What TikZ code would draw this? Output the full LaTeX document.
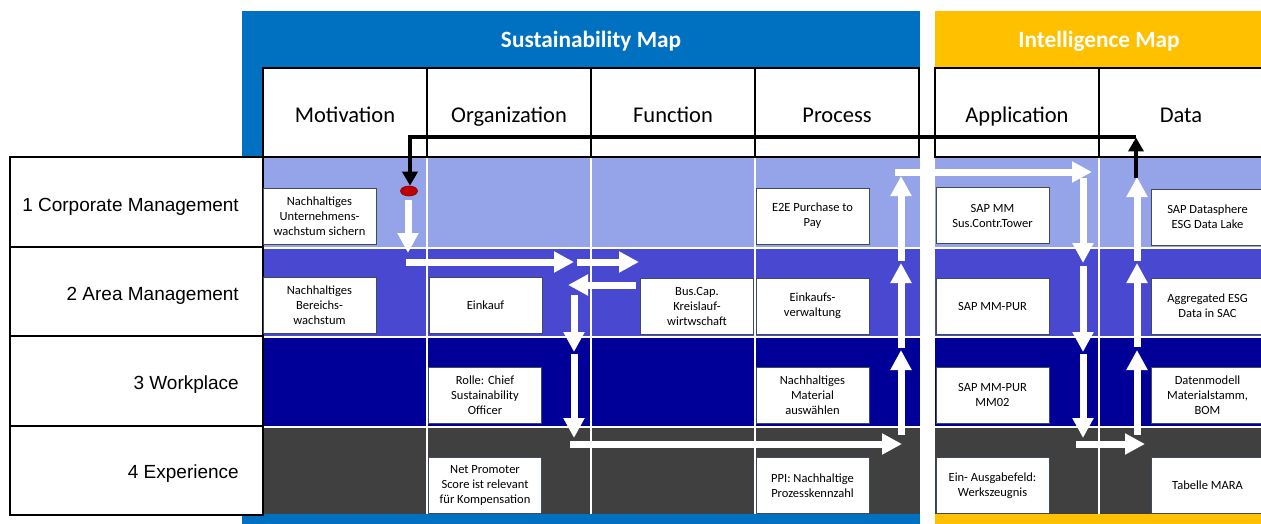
\documentclass[tikz,border=0pt]{standalone}
\usepackage{fontspec}
\setmainfont{Carlito}
\newfontfamily\arialf{Liberation Sans}
\usetikzlibrary{arrows.meta,shapes.geometric}
\definecolor{susblue}{HTML}{0070C0}
\definecolor{intyellow}{HTML}{FFC000}
\definecolor{rowA}{HTML}{95A3E8}
\definecolor{rowB}{HTML}{4848D0}
\definecolor{rowC}{HTML}{000099}
\definecolor{rowD}{HTML}{404040}
\definecolor{boxborder}{HTML}{3F4A5E}
\definecolor{dotred}{HTML}{C00000}
\definecolor{dotborder}{HTML}{7F0000}
\begin{document}
\begin{tikzpicture}[x=1pt,y=-1pt,
  headcell/.style={draw=black,line width=2pt,fill=white,minimum width=164pt,minimum height=89pt,inner sep=0pt,text height=21pt,text depth=0pt,font=\fontsize{22.5}{26}\selectfont},
  labelcell/.style={draw=black,line width=2pt,fill=white,minimum width=253pt,minimum height=89.5pt,inner sep=0pt},
  labeltext/.style={anchor=base east,inner sep=0pt,font=\arialf\fontsize{19}{22}\selectfont},
  maptitle/.style={anchor=base,text=white,inner sep=0pt,font=\bfseries\fontsize{23.3}{27}\selectfont},
  infobox/.style={draw=boxborder,line width=0.8pt,fill=white,minimum width=113pt,minimum height=56pt,inner sep=1pt,align=center,font=\fontsize{12.5}{15}\selectfont},
  whitearrow/.style={draw=white,line width=7pt,-{Triangle[width=20pt,length=20pt]}},
  blackarrow/.style={draw=black,line width=4pt,line join=miter,-{Triangle[width=15pt,length=14pt]}},
  gridline/.style={draw=white,line width=2pt},
  reddot/.style={ellipse,draw=dotborder,line width=0.6pt,fill=dotred,minimum width=17pt,minimum height=10pt,inner sep=0pt}
]
\useasboundingbox (0,0) rectangle (1261,524);
\fill[white] (0,0) rectangle (1261,524);
% panels
\fill[susblue] (242,11) rectangle (920,524);
\fill[intyellow] (935,11) rectangle (1263,524);
\node[maptitle] (tsus) at (591,48) {Sustainability Map};
\node[maptitle] (tint) at (1099,48) {Intelligence Map};
% row backgrounds
\foreach \xa/\xb in {263/920,935/1263}{
  \fill[rowA] (\xa,157) rectangle (\xb,247);
  \fill[rowB] (\xa,247) rectangle (\xb,336);
  \fill[rowC] (\xa,336) rectangle (\xb,426);
  \fill[rowD] (\xa,426) rectangle (\xb,514);
  \draw[gridline] (\xa,247.5) -- (\xb,247.5);
  \draw[gridline] (\xa,336.5) -- (\xb,336.5);
  \draw[gridline] (\xa,426.5) -- (\xb,426.5);
}
\foreach \xc in {427,591,755,1099}{
  \draw[gridline] (\xc,157) -- (\xc,514);
}
% header cells
\node[headcell] (hMot) at (345,112.5) {Motivation};
\node[headcell] (hOrg) at (509,112.5) {Organization};
\node[headcell] (hFun) at (673,112.5) {Function};
\node[headcell] (hPro) at (837,112.5) {Process};
\node[headcell] (hApp) at (1017,112.5) {Application};
\node[headcell] (hDat) at (1181,112.5) {Data};
% row label cells
\node[labelcell] (r1) at (136.5,201.75) {};
\node[labelcell] (r2) at (136.5,291.25) {};
\node[labelcell] (r3) at (136.5,380.75) {};
\node[labelcell] (r4) at (136.5,470.25) {};
\node[labeltext] (l1) at (239,211) {1 Corporate Management};
\node[labeltext] (l2) at (239,300) {2 Area Management};
\node[labeltext] (l3) at (239,389) {3 Workplace};
\node[labeltext] (l4) at (239,478) {4 Experience};
% boxes
\node[infobox] (m1) at (319.5,216.5) {Nachhaltiges\\Unternehmens-\\wachstum sichern};
\node[infobox] (m2) at (319.5,305.5) {Nachhaltiges\\Bereichs-\\wachstum};
\node[infobox] (o2) at (485.5,305.5) {Einkauf};
\node[infobox] (o3) at (485,395) {Rolle: Chief\\Sustainability\\Officer};
\node[infobox] (o4) at (485,485) {Net Promoter\\Score ist relevant\\für Kompensation};
\node[infobox] (f2) at (697,306) {Bus.Cap.\\Kreislauf-\\wirtwschaft};
\node[infobox] (p1) at (812.5,216) {E2E Purchase to\\Pay};
\node[infobox] (p2) at (812.5,306) {Einkaufs-\\verwaltung};
\node[infobox] (p3) at (812.5,395) {Nachhaltiges\\Material\\auswählen};
\node[infobox] (p4) at (812.5,485.5) {PPI: Nachhaltige\\Prozesskennzahl};
\node[infobox] (a1) at (992.5,215.5) {SAP MM\\Sus.Contr.Tower};
\node[infobox] (a2) at (992.5,306) {SAP MM-PUR};
\node[infobox] (a3) at (992.5,395) {SAP MM-PUR\\MM02};
\node[infobox] (a4) at (992.5,485.5) {Ein- Ausgabefeld:\\Werkszeugnis};
\node[infobox] (d1) at (1207.5,217) {SAP Datasphere\\ESG Data Lake};
\node[infobox] (d2) at (1207.5,306) {Aggregated ESG\\Data in SAC};
\node[infobox] (d3) at (1207.5,395) {Datenmodell\\Materialstamm,\\BOM};
\node[infobox] (d4) at (1207.5,485.5) {Tabelle MARA};
% red dot
\node[reddot] (dot) at (409,191) {};
% white arrow end points
\coordinate (wa0) at (408,200);  \coordinate (wa1) at (408,253);
\coordinate (wb0) at (406,262);  \coordinate (wb1) at (574,262);
\coordinate (wc0) at (577,262);  \coordinate (wc1) at (639,262);
\coordinate (wd0) at (636,285);  \coordinate (wd1) at (568,285);
\coordinate (we0) at (574,295);  \coordinate (we1) at (574,352);
\coordinate (wf0) at (574,354);  \coordinate (wf1) at (574,438);
\coordinate (wg0) at (570,444);  \coordinate (wg1) at (902,444);
\coordinate (wh0) at (901,435);  \coordinate (wh1) at (901,350);
\coordinate (wi0) at (901,348);  \coordinate (wi1) at (901,263);
\coordinate (wj0) at (901,261);  \coordinate (wj1) at (901,176);
\coordinate (wk0) at (895,172);  \coordinate (wk1) at (1092,172);
\coordinate (wl0) at (1083,178); \coordinate (wl1) at (1083,263);
\coordinate (wm0) at (1083,266); \coordinate (wm1) at (1083,352);
\coordinate (wn0) at (1083,354); \coordinate (wn1) at (1083,438);
\coordinate (wo0) at (1076,444); \coordinate (wo1) at (1145,444);
\coordinate (wp0) at (1137,435); \coordinate (wp1) at (1137,350);
\coordinate (wq0) at (1137,347); \coordinate (wq1) at (1137,263);
\coordinate (wr0) at (1137,261); \coordinate (wr1) at (1137,177);
\foreach \n in {a,b,c,d,e,f,g,h,i,j,k,l,m,n,o,p,q,r}{
  \draw[whitearrow] (w\n0) -- (w\n1);
}
% black feedback arrow
\coordinate (bk0) at (1136,178);
\coordinate (bkR) at (1136,137.5);
\coordinate (bkL) at (410,137.5);
\draw[blackarrow] (bkR) -- (bkL) -- (dot.north -| bkL);
\draw[blackarrow] (bk0) -- (bkR);
\end{tikzpicture}
\end{document}
